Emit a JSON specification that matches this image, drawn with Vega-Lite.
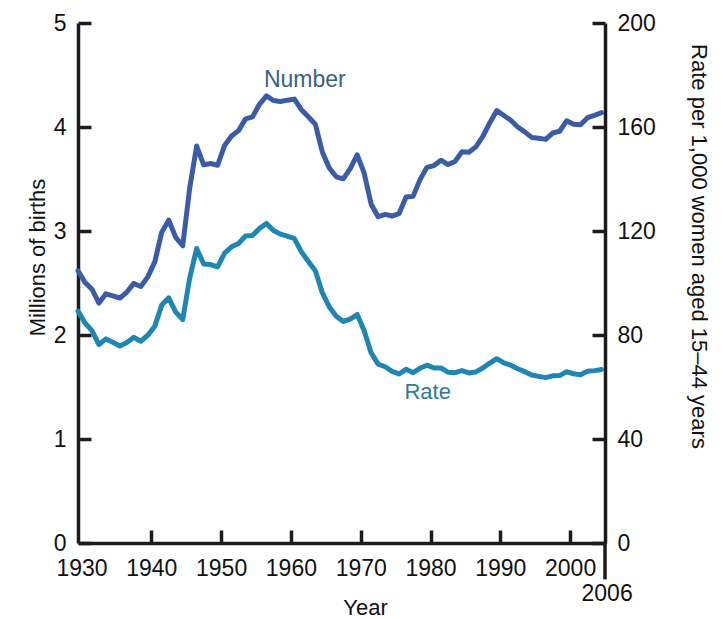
{
  "$schema": "https://vega.github.io/schema/vega-lite/v6.json",
  "width": 527,
  "height": 520,
  "autosize": {"type": "none"},
  "padding": {"left": 78, "top": 23, "right": 118, "bottom": 76},
  "background": "white",
  "config": {
    "view": {"stroke": null},
    "axis": {
      "grid": false,
      "domainColor": "#1c1c1c",
      "domainWidth": 3.5,
      "tickColor": "#1c1c1c",
      "tickWidth": 3.5,
      "tickSize": -13,
      "tickCap": "butt",
      "labelFont": "Liberation Sans",
      "labelFontSize": 23,
      "labelColor": "#111111",
      "titleFont": "Liberation Sans",
      "titleFontSize": 22,
      "titleFontWeight": "normal",
      "titleColor": "#111111"
    }
  },
  "data": {
    "values": [
      {"year": 1930, "number": 2.618, "rate": 89.2},
      {"year": 1931, "number": 2.506, "rate": 84.6},
      {"year": 1932, "number": 2.440, "rate": 81.7},
      {"year": 1933, "number": 2.307, "rate": 76.3},
      {"year": 1934, "number": 2.396, "rate": 78.5},
      {"year": 1935, "number": 2.377, "rate": 77.2},
      {"year": 1936, "number": 2.355, "rate": 75.8},
      {"year": 1937, "number": 2.413, "rate": 77.1},
      {"year": 1938, "number": 2.496, "rate": 79.1},
      {"year": 1939, "number": 2.466, "rate": 77.6},
      {"year": 1940, "number": 2.559, "rate": 79.9},
      {"year": 1941, "number": 2.703, "rate": 83.4},
      {"year": 1942, "number": 2.989, "rate": 91.5},
      {"year": 1943, "number": 3.104, "rate": 94.3},
      {"year": 1944, "number": 2.939, "rate": 88.8},
      {"year": 1945, "number": 2.858, "rate": 85.9},
      {"year": 1946, "number": 3.411, "rate": 101.9},
      {"year": 1947, "number": 3.817, "rate": 113.3},
      {"year": 1948, "number": 3.637, "rate": 107.3},
      {"year": 1949, "number": 3.649, "rate": 107.1},
      {"year": 1950, "number": 3.632, "rate": 106.2},
      {"year": 1951, "number": 3.823, "rate": 111.5},
      {"year": 1952, "number": 3.913, "rate": 113.9},
      {"year": 1953, "number": 3.965, "rate": 115.2},
      {"year": 1954, "number": 4.078, "rate": 118.1},
      {"year": 1955, "number": 4.097, "rate": 118.3},
      {"year": 1956, "number": 4.218, "rate": 121.0},
      {"year": 1957, "number": 4.300, "rate": 122.9},
      {"year": 1958, "number": 4.255, "rate": 120.2},
      {"year": 1959, "number": 4.245, "rate": 118.8},
      {"year": 1960, "number": 4.258, "rate": 118.0},
      {"year": 1961, "number": 4.268, "rate": 117.1},
      {"year": 1962, "number": 4.167, "rate": 112.0},
      {"year": 1963, "number": 4.098, "rate": 108.3},
      {"year": 1964, "number": 4.027, "rate": 104.7},
      {"year": 1965, "number": 3.760, "rate": 96.3},
      {"year": 1966, "number": 3.606, "rate": 90.8},
      {"year": 1967, "number": 3.521, "rate": 87.2},
      {"year": 1968, "number": 3.502, "rate": 85.2},
      {"year": 1969, "number": 3.600, "rate": 86.1},
      {"year": 1970, "number": 3.731, "rate": 87.9},
      {"year": 1971, "number": 3.556, "rate": 81.6},
      {"year": 1972, "number": 3.258, "rate": 73.1},
      {"year": 1973, "number": 3.137, "rate": 68.8},
      {"year": 1974, "number": 3.160, "rate": 67.8},
      {"year": 1975, "number": 3.144, "rate": 66.0},
      {"year": 1976, "number": 3.168, "rate": 65.0},
      {"year": 1977, "number": 3.327, "rate": 66.8},
      {"year": 1978, "number": 3.333, "rate": 65.5},
      {"year": 1979, "number": 3.494, "rate": 67.2},
      {"year": 1980, "number": 3.612, "rate": 68.4},
      {"year": 1981, "number": 3.629, "rate": 67.3},
      {"year": 1982, "number": 3.681, "rate": 67.3},
      {"year": 1983, "number": 3.639, "rate": 65.7},
      {"year": 1984, "number": 3.669, "rate": 65.5},
      {"year": 1985, "number": 3.761, "rate": 66.3},
      {"year": 1986, "number": 3.757, "rate": 65.4},
      {"year": 1987, "number": 3.809, "rate": 65.8},
      {"year": 1988, "number": 3.910, "rate": 67.3},
      {"year": 1989, "number": 4.041, "rate": 69.2},
      {"year": 1990, "number": 4.158, "rate": 70.9},
      {"year": 1991, "number": 4.111, "rate": 69.3},
      {"year": 1992, "number": 4.065, "rate": 68.4},
      {"year": 1993, "number": 4.000, "rate": 67.0},
      {"year": 1994, "number": 3.953, "rate": 65.9},
      {"year": 1995, "number": 3.900, "rate": 64.6},
      {"year": 1996, "number": 3.891, "rate": 64.1},
      {"year": 1997, "number": 3.881, "rate": 63.6},
      {"year": 1998, "number": 3.942, "rate": 64.3},
      {"year": 1999, "number": 3.959, "rate": 64.4},
      {"year": 2000, "number": 4.059, "rate": 65.9},
      {"year": 2001, "number": 4.026, "rate": 65.1},
      {"year": 2002, "number": 4.022, "rate": 64.7},
      {"year": 2003, "number": 4.090, "rate": 66.1},
      {"year": 2004, "number": 4.112, "rate": 66.3},
      {"year": 2005, "number": 4.138, "rate": 66.7}
    ]
  },
  "layer": [
    {
      "layer": [
        {
          "mark": {"type": "line", "color": "#3a5ca6", "strokeWidth": 5, "strokeJoin": "round", "strokeCap": "round"},
          "encoding": {
            "x": {
              "field": "year",
              "type": "quantitative",
              "scale": {"domain": [1930, 2005.5], "nice": false, "zero": false},
              "axis": {
                "title": "Year",
                "values": [1930, 1940, 1950, 1960, 1970, 1980, 1990, 2000],
                "format": "d",
                "labelFlush": false,
                "labelOverlap": false,
                "tickOffset": 3.5,
                "labelPadding": 27,
                "tickOpacity": {"condition": {"test": "datum.value == 1930", "value": 0}, "value": 1},
                "titleX": 287,
                "titleY": 64,
                "titleAlign": "center",
                "titleBaseline": "middle"
              }
            },
            "y": {
              "field": "number",
              "type": "quantitative",
              "scale": {"domain": [0, 5], "nice": false, "zero": true},
              "axis": {
                "orient": "left",
                "title": "Millions of births",
                "values": [0, 1, 2, 3, 4, 5],
                "format": "d",
                "labelPadding": 25,
                "titleAngle": -90,
                "titleX": -41,
                "titleY": 234,
                "titleAlign": "center",
                "titleBaseline": "middle"
              }
            }
          }
        },
        {
          "data": {"values": [{"label": "Number"}]},
          "mark": {"type": "text", "fontSize": 23, "color": "#3d5f84", "font": "Liberation Sans", "align": "center", "baseline": "middle"},
          "encoding": {
            "x": {"datum": 1962.5, "type": "quantitative"},
            "y": {"datum": 4.45, "type": "quantitative"},
            "text": {"field": "label"}
          }
        }
      ]
    },
    {
      "layer": [
        {
          "mark": {"type": "line", "color": "#1f86b3", "strokeWidth": 5, "strokeJoin": "round", "strokeCap": "round"},
          "encoding": {
            "x": {"field": "year", "type": "quantitative"},
            "y": {
              "field": "rate",
              "type": "quantitative",
              "scale": {"domain": [0, 200], "nice": false, "zero": true},
              "axis": {
                "orient": "right",
                "title": "Rate per 1,000 women aged 15–44 years",
                "values": [0, 40, 80, 120, 160, 200],
                "labelPadding": 25,
                "titleAngle": 90,
                "titleX": 93,
                "titleY": 223,
                "titleAlign": "center",
                "titleBaseline": "middle"
              }
            }
          }
        },
        {
          "data": {"values": [{"label": "Rate"}]},
          "mark": {"type": "text", "fontSize": 22, "color": "#2f7b92", "font": "Liberation Sans", "align": "center", "baseline": "middle"},
          "encoding": {
            "x": {"datum": 1980.1, "type": "quantitative"},
            "y": {"datum": 57.9, "type": "quantitative"},
            "text": {"field": "label"}
          }
        },
        {
          "data": {"values": [{"label": "2006"}]},
          "mark": {"type": "text", "fontSize": 23, "color": "#111111", "font": "Liberation Sans", "align": "center", "baseline": "middle"},
          "encoding": {
            "x": {"datum": 2005.8, "type": "quantitative"},
            "y": {"datum": -19.8, "type": "quantitative"},
            "text": {"field": "label"}
          }
        },
        {
          "data": {"values": [{"label": "axis"}]},
          "mark": {"type": "rule", "color": "#1c1c1c", "strokeWidth": 3.5},
          "encoding": {
            "x": {"datum": 2005.5, "type": "quantitative"},
            "y": {"datum": 0, "type": "quantitative"},
            "y2": {"datum": -14}
          }
        }
      ]
    }
  ],
  "resolve": {"scale": {"y": "independent"}, "axis": {"y": "independent"}}
}
